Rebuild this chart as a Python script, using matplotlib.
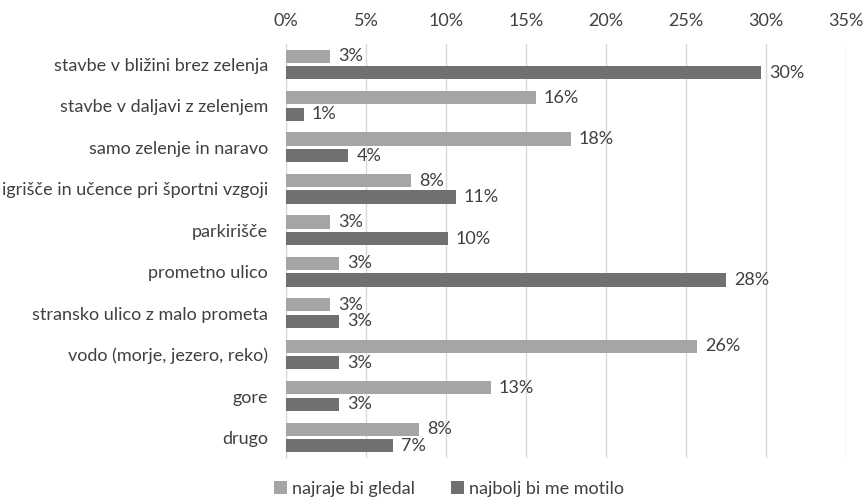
import matplotlib.pyplot as plt
import numpy as np

plt.rcParams['font.family'] = ['Lato', 'DejaVu Sans']

# Data (percent)
categories = [
    "stavbe v bližini brez zelenja",
    "stavbe v daljavi z zelenjem",
    "samo zelenje in naravo",
    "igrišče in učence pri športni vzgoji",
    "parkirišče",
    "prometno ulico",
    "stransko ulico z malo prometa",
    "vodo (morje, jezero, reko)",
    "gore",
    "drugo",
]
najraje = [2.75, 15.6, 17.8, 7.8, 2.75, 3.3, 2.75, 25.7, 12.8, 8.3]
motilo = [29.7, 1.1, 3.9, 10.6, 10.1, 27.5, 3.3, 3.3, 3.3, 6.7]
series_names = ["najraje bi gledal", "najbolj bi me motilo"]
xticks = [0, 5, 10, 15, 20, 25, 30, 35]

light = "#a5a5a5"
dark = "#707070"
text_col = "#404040"
fs = 13

fig = plt.figure(figsize=(8.64, 4.98), dpi=100)
ax = fig.add_axes([0.331, 0.080, 0.648, 0.832])

y = np.arange(len(categories))
h = 0.32
b1 = ax.barh(y - 0.2, najraje, height=h, color=light, label=series_names[0], zorder=3)
b2 = ax.barh(y + 0.2, motilo, height=h, color=dark, label=series_names[1], zorder=3)

for bars in (b1, b2):
    for bar in bars:
        w = bar.get_width()
        ax.text(w + 0.5, bar.get_y() + bar.get_height() / 2, f"{w:.0f}%",
                va="center", ha="left", fontsize=fs, color=text_col)

ax.set_xlim(0, 35)
ax.set_ylim(len(categories) - 0.5, -0.5)
ax.set_xticks(xticks)
ax.set_xticklabels([f"{t}%" for t in xticks])
ax.xaxis.tick_top()
ax.tick_params(axis="x", length=0, pad=11, labelsize=fs, labelcolor=text_col)
ax.set_yticks(y)
ax.set_yticklabels(categories)
ax.tick_params(axis="y", length=0, pad=13, labelsize=fs, labelcolor=text_col)

ax.grid(axis="x", color="#d9d9d9", linewidth=1, zorder=0)
for s in ["top", "right", "bottom"]:
    ax.spines[s].set_visible(False)
ax.spines["left"].set_color("#d9d9d9")

fig.legend(loc="lower center", bbox_to_anchor=(0.52, -0.03), ncol=2, frameon=False,
           fontsize=fs, labelcolor=text_col, handlelength=0.7, handleheight=0.7,
           handletextpad=0.3, columnspacing=2.0)

fig.savefig("out.png", dpi=100)
